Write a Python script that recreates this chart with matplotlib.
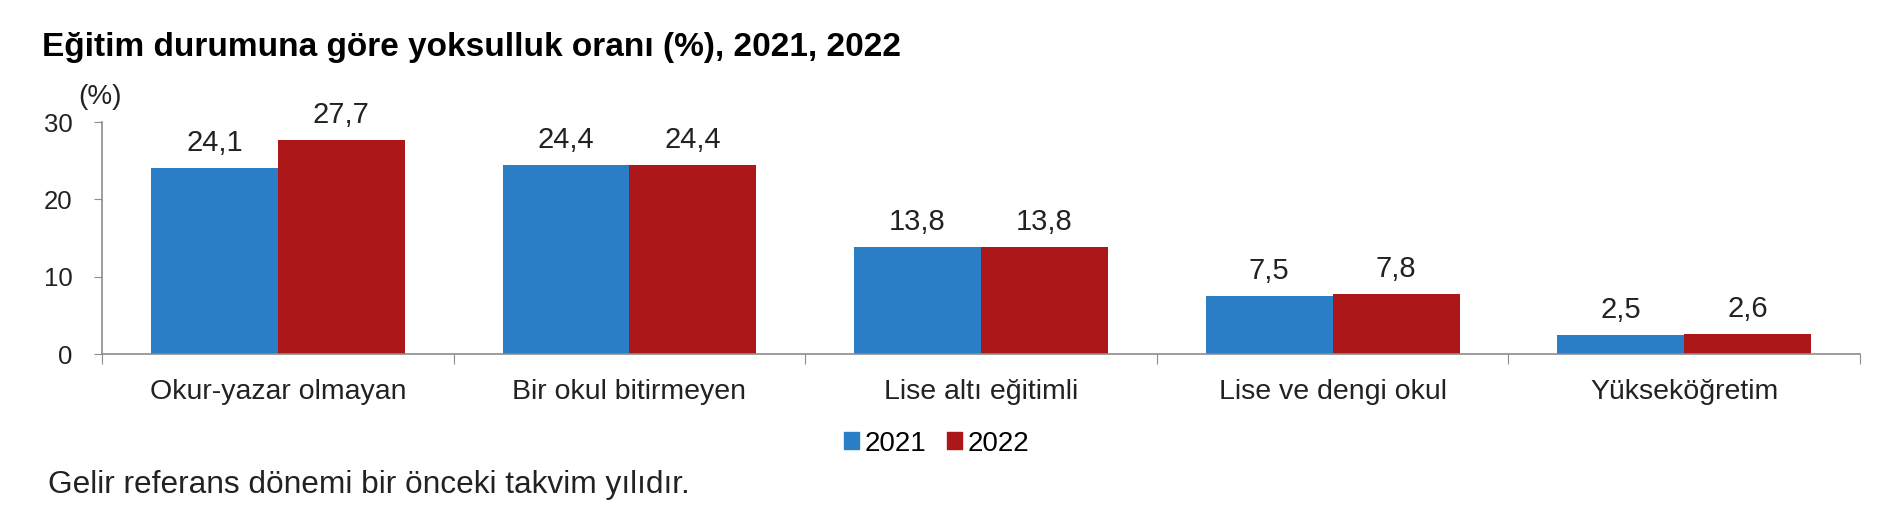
import matplotlib
matplotlib.use("Agg")
import matplotlib.pyplot as plt
import numpy as np
from matplotlib.patches import Patch

categories = ["Okur-yazar olmayan", "Bir okul bitirmeyen", "Lise altı eğitimli",
              "Lise ve dengi okul", "Yükseköğretim"]
years = ["2021", "2022"]
values_2021 = [24.1, 24.4, 13.8, 7.5, 2.5]
values_2022 = [27.7, 24.4, 13.8, 7.8, 2.6]
yticks = [0, 10, 20, 30]

title = "Eğitim durumuna göre yoksulluk oranı (%), 2021, 2022"
footnote = "Gelir referans dönemi bir önceki takvim yılıdır."

plt.rcParams['font.family'] = ['Liberation Sans', 'DejaVu Sans']

blue = "#2A7EC5"
red = "#AC1719"
txt = "#222222"
spine = "#8C8C8C"

fig = plt.figure(figsize=(19, 5.25), dpi=100)
ax = fig.add_axes([0.0537, 0.3257, 0.9253, 0.4419])

x = np.arange(len(categories))
w = 0.361
b1 = ax.bar(x - w / 2, values_2021, w, color=blue, label=years[0])
b2 = ax.bar(x + w / 2, values_2022, w, color=red, label=years[1])

for bars, vals in ((b1, values_2021), (b2, values_2022)):
    for r, v in zip(bars, vals):
        ax.annotate(f"{v:.1f}".replace(".", ","), (r.get_x() + r.get_width() / 2, v),
                    xytext=(0, 8), textcoords="offset points", ha="center", va="bottom",
                    fontsize=21, color=txt)

ax.set_xlim(-0.5, len(categories) - 0.5)
ax.set_ylim(0, 30)
ax.set_yticks(yticks)
ax.set_yticklabels([str(t) for t in yticks], fontsize=18.5, color=txt)
ax.set_xticks(np.arange(len(categories) + 1) - 0.5)
ax.set_xticklabels([])
ax.set_xticks(x, minor=True)
ax.set_xticklabels(categories, minor=True, fontsize=20.5, color=txt)
ax.tick_params(axis="x", which="minor", length=0, pad=18)
ax.tick_params(axis="x", which="major", length=7, color=spine, direction="out")
ax.tick_params(axis="y", length=6, color=spine, direction="out", pad=15)
for s in ("top", "right"):
    ax.spines[s].set_visible(False)
for s in ("left", "bottom"):
    ax.spines[s].set_color(spine)
    ax.spines[s].set_linewidth(1.2)

fig.text(78 / 1900, 1 - 97 / 525, "(%)", fontsize=20, color=txt, ha="left", va="center")

fig.text(0.022, 0.91, title, fontsize=24, fontweight="bold", color="black",
         ha="left", va="center")

handles = [Patch(color=blue, label=years[0]), Patch(color=red, label=years[1])]
fig.legend(handles=handles, loc="center", bbox_to_anchor=(0.493, 0.155), ncol=2,
           frameon=False, fontsize=20, handlelength=0.55, handleheight=0.55,
           handletextpad=0.2, columnspacing=0.75)

fig.text(0.025, 0.076, footnote, fontsize=22.8, color=txt, ha="left", va="center")

fig.savefig("out.png", dpi=100, facecolor="white")
